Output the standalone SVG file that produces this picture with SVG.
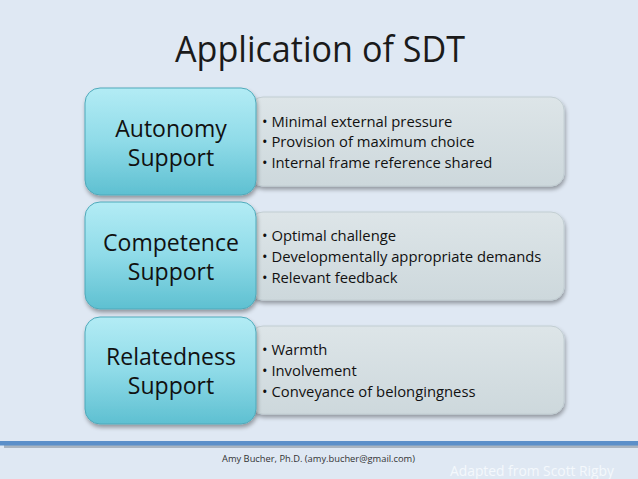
<svg xmlns="http://www.w3.org/2000/svg" width="638" height="479" viewBox="0 0 638 479">
<defs>
<linearGradient id="cyan" x1="0" y1="0" x2="0" y2="1">
<stop offset="0" stop-color="#b3ecf5"/>
<stop offset="0.5" stop-color="#8fdbe8"/>
<stop offset="1" stop-color="#5ec0d1"/>
</linearGradient>
<linearGradient id="grey" x1="0" y1="0" x2="0" y2="1">
<stop offset="0" stop-color="#dde5e8"/>
<stop offset="1" stop-color="#cdd8dc"/>
</linearGradient>
<filter id="sh" x="-10%" y="-10%" width="125%" height="130%">
<feGaussianBlur in="SourceAlpha" stdDeviation="2"/>
<feOffset dx="1" dy="3"/>
<feComponentTransfer><feFuncA type="linear" slope="0.35"/></feComponentTransfer>
<feMerge><feMergeNode/><feMergeNode in="SourceGraphic"/></feMerge>
</filter>
</defs>
<style>
.lbl{font-family:"Open Sans","Liberation Sans",sans-serif;font-size:23px;fill:#111;text-anchor:middle}
.bul{font-family:"Open Sans","Liberation Sans",sans-serif;font-size:14.8px;fill:#111}
.lb{fill:url(#cyan);stroke:#4fa9ba;stroke-width:1}
.rb{fill:url(#grey);stroke:#c2ced2;stroke-width:1}
</style>
<rect width="638" height="479" fill="#dfe8f3"/>
<text x="175" y="62" textLength="290" lengthAdjust="spacingAndGlyphs" font-family="'Open Sans','Liberation Sans',sans-serif" font-size="36" fill="#1a1a1a">Application of SDT</text>

<g id="autonomy-details"><rect class="rb" x="250" y="97" width="314" height="89" rx="13" filter="url(#sh)"/>
<text class="bul" x="262" y="127">• Minimal external pressure</text>
<text class="bul" x="262" y="147">• Provision of maximum choice</text>
<text class="bul" x="262" y="168">• Internal frame reference shared</text></g>
<g id="autonomy"><rect class="lb" x="85" y="88" width="171" height="107" rx="15" filter="url(#sh)"/>
<text class="lbl" x="171" y="137">Autonomy</text><text class="lbl" x="171" y="166">Support</text></g>

<g id="competence-details"><rect class="rb" x="250" y="212" width="314" height="88" rx="13" filter="url(#sh)"/>
<text class="bul" x="262" y="241">• Optimal challenge</text>
<text class="bul" x="262" y="262">• Developmentally appropriate demands</text>
<text class="bul" x="262" y="283">• Relevant feedback</text></g>
<g id="competence"><rect class="lb" x="85" y="202" width="171" height="107" rx="15" filter="url(#sh)"/>
<text class="lbl" x="171" y="251">Competence</text><text class="lbl" x="171" y="280">Support</text></g>

<g id="relatedness-details"><rect class="rb" x="250" y="326" width="314" height="88" rx="13" filter="url(#sh)"/>
<text class="bul" x="262" y="355">• Warmth</text>
<text class="bul" x="262" y="376">• Involvement</text>
<text class="bul" x="262" y="397">• Conveyance of belongingness</text></g>
<g id="relatedness"><rect class="lb" x="85" y="317" width="171" height="107" rx="15" filter="url(#sh)"/>
<text class="lbl" x="171" y="365">Relatedness</text><text class="lbl" x="171" y="394">Support</text></g>

<g id="connectors"></g>

<rect x="4" y="445" width="634" height="3" fill="#a9b4c0"/>
<rect x="0" y="441" width="638" height="4.5" fill="#5b8fc9"/>
<text x="222" y="462" textLength="193" lengthAdjust="spacingAndGlyphs" font-family="'Open Sans','Liberation Sans',sans-serif" font-size="9.5" fill="#333">Amy Bucher, Ph.D. (amy.bucher@gmail.com)</text>
<text x="450" y="476" textLength="164" lengthAdjust="spacingAndGlyphs" font-family="'Open Sans','Liberation Sans',sans-serif" font-size="14" fill="#f4f8fc">Adapted from Scott Rigby</text>
</svg>
